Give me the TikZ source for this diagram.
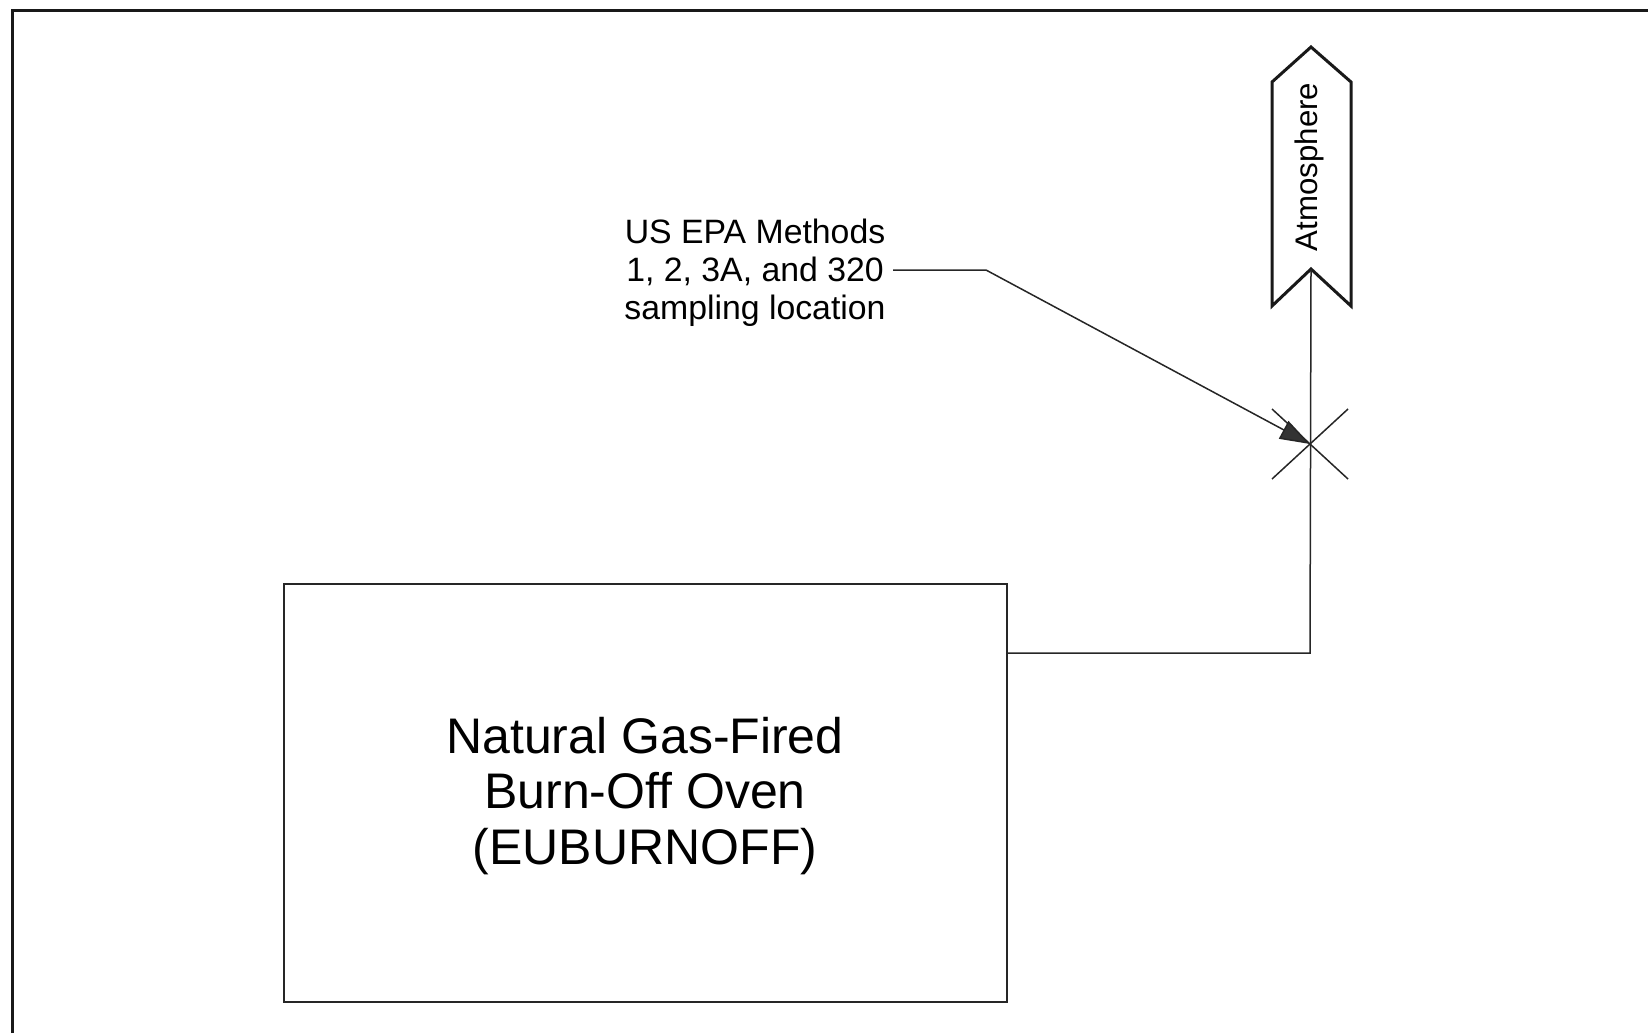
\documentclass[tikz,border=0pt]{standalone}
\usepackage{fontspec}
\setmainfont{Liberation Sans}
\usetikzlibrary{arrows.meta}
\begin{document}
\begin{tikzpicture}[x=0.5pt,y=-0.5pt,line join=miter,
  thin line/.style={line width=0.75pt, draw=black!85},
  thick line/.style={line width=1.5pt, draw=black!90}]
\useasboundingbox (0,0) rectangle (1648,1033);
% frame (top and left edges only visible)
\draw[thick line] (12,1033) -- (12,10) -- (1648,10);
% oven box
\node[draw, thin line, minimum width=361.5pt, minimum height=209pt, inner sep=0pt,
      anchor=north west] (oven) at (283,583) {};
\node[align=center, font=\fontsize{25}{27.7}\selectfont] (oventext) at (645,796)
  {Natural Gas-Fired\\Burn-Off Oven\\(EUBURNOFF)};
% atmosphere outlet
\coordinate (tip) at (1311,47);
\coordinate (notch) at (1311,269);
\draw[thick line] (1272,82) -- (tip) -- (1351,82) -- (1351,306) -- (notch) -- (1272,306) -- cycle;
\node[rotate=90, font=\fontsize{15.6}{18}\selectfont, inner sep=0pt] (atm) at (1309,167) {Atmosphere};
% sampling point
\coordinate (xc) at (1310,444);
\coordinate (elbow) at (1310,653);
\draw[thin line] (1272,409) -- (1348,479);
\draw[thin line] (1272,479) -- (1348,409);
\draw[thin line] (oven.east |- elbow) -- (elbow) -- (notch);
% label and leader
\node[align=center, font=\fontsize{16.9}{18.9}\selectfont, inner sep=0pt] (lbl) at (755,273)
  {US EPA Methods\\1, 2, 3A, and 320\\sampling location};
\coordinate (lead) at (893,270);
\coordinate (leadbend) at (986,270);
\draw[thin line, -{Triangle[length=15pt,width=10pt,fill=black!80]}] (lead) -- (leadbend) -- (xc);
\end{tikzpicture}
\end{document}
